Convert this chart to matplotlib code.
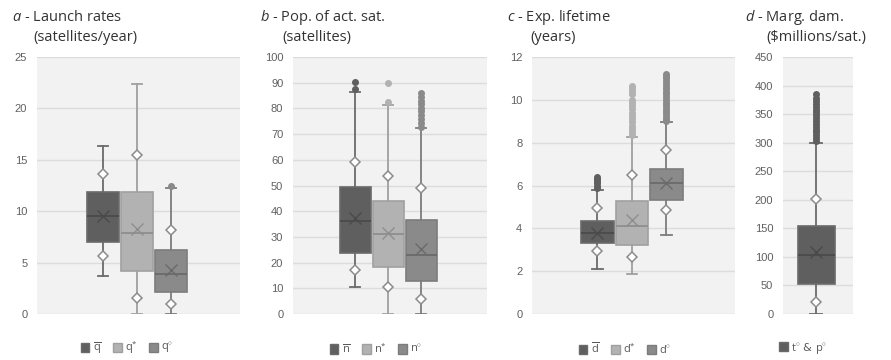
import numpy as np
import matplotlib.pyplot as plt
from matplotlib.patches import Patch

plt.rcParams['mathtext.fontset'] = 'custom'
plt.rcParams['mathtext.rm'] = 'Open Sans'
plt.rcParams['mathtext.it'] = 'Open Sans:italic'

# series colours (dark, light, mid)
fills = ['#5f5f5f', '#b2b2b2', '#8a8a8a']
edges = ['#6a6a6a', '#a0a0a0', '#7c7c7c']
inner = ['#4a4a4a', '#8e8e8e', '#6a6a6a']

# a - launch rates
a_labels = [r'$\overline{\mathrm{q}}$', r'$\mathrm{q}^{*}$', r'$\mathrm{q}^{\circ}$']
a_q1 = [7.0, 4.2, 2.1]
a_med = [9.5, 7.9, 3.9]
a_q3 = [11.9, 11.9, 6.2]
a_lo = [3.65, 0.0, 0.0]
a_hi = [16.3, 22.4, 12.3]
a_mean = [9.5, 8.25, 4.25]
a_p05 = [5.6, 1.55, 1.0]
a_p95 = [13.6, 15.5, 8.2]
a_out = [[], [], [12.5]]

# b - population of active satellites
b_labels = [r'$\overline{\mathrm{n}}$', r'$\mathrm{n}^{*}$', r'$\mathrm{n}^{\circ}$']
b_q1 = [23.9, 18.2, 12.7]
b_med = [36.2, 31.0, 22.9]
b_q3 = [49.5, 44.0, 36.6]
b_lo = [10.5, 0.0, 0.0]
b_hi = [86.5, 81.5, 72.2]
b_mean = [37.3, 31.4, 25.2]
b_p05 = [17.2, 10.5, 5.8]
b_p95 = [59.0, 53.8, 48.9]
b_out = [[87.5, 90.3], [82.3, 89.9],
         [72.8, 74.3, 75.8, 77.3, 78.8, 80.2, 81.6, 83.0, 84.5, 86.0]]

# c - expected lifetime
c_labels = [r'$\overline{\mathrm{d}}$', r'$\mathrm{d}^{*}$', r'$\mathrm{d}^{\circ}$']
c_q1 = [3.31, 3.23, 5.33]
c_med = [3.8, 4.11, 6.1]
c_q3 = [4.36, 5.26, 6.79]
c_lo = [2.1, 1.88, 3.68]
c_hi = [5.79, 8.28, 8.98]
c_mean = [3.8, 4.39, 6.13]
c_p05 = [2.92, 2.64, 4.86]
c_p95 = [4.94, 6.5, 7.67]
c_out = [[5.9, 6.0, 6.1, 6.2, 6.3, 6.38],
         [8.35, 8.5, 8.65, 8.8, 8.95, 9.1, 9.25, 9.4, 9.55, 9.7, 9.85, 10.0,
          10.25, 10.4, 10.55, 10.65],
         [9.0, 9.12, 9.25, 9.37, 9.5, 9.62, 9.75, 9.87, 10.0, 10.12, 10.25,
          10.37, 10.5, 10.62, 10.75, 10.87, 11.0, 11.1, 11.2]]

# d - marginal damages
d_labels = [r'$\mathrm{t}^{\circ}$ & $\mathrm{p}^{\circ}$']
d_q1 = [52.4]
d_med = [103.0]
d_q3 = [154.8]
d_lo = [0.0]
d_hi = [300.0]
d_mean = [108.0]
d_p05 = [20.4]
d_p95 = [200.8]
d_out = [[303, 308, 313, 318, 323, 328, 333, 338, 343, 348, 353, 358, 363,
          368, 373, 378, 385]]

panels = [
    dict(title=r'$\it{a}$ - Launch rates', sub='(satellites/year)',
         labels=a_labels, q1=a_q1, med=a_med, q3=a_q3, lo=a_lo, hi=a_hi,
         mean=a_mean, p05=a_p05, p95=a_p95, out=a_out,
         rect=[37, 203], xlim=(-2.94, 3.03), ylim=25, step=5,
         t1=12, t2=33, legx=127),
    dict(title=r'$\it{b}$ - Pop. of act. sat.', sub='(satellites)',
         labels=b_labels, q1=b_q1, med=b_med, q3=b_q3, lo=b_lo, hi=b_hi,
         mean=b_mean, p05=b_p05, p95=b_p95, out=b_out,
         rect=[293, 194], xlim=(-2.88, 3.0), ylim=100, step=10,
         t1=260, t2=282, legx=376),
    dict(title=r'$\it{c}$ - Exp. lifetime', sub='(years)',
         labels=c_labels, q1=c_q1, med=c_med, q3=c_q3, lo=c_lo, hi=c_hi,
         mean=c_mean, p05=c_p05, p95=c_p95, out=c_out,
         rect=[532, 203], xlim=(-2.9, 2.99), ylim=12, step=2,
         t1=507, t2=530, legx=625),
    dict(title=r'$\it{d}$ - Marg. dam.', sub='($millions/sat.)',
         labels=d_labels, q1=d_q1, med=d_med, q3=d_q3, lo=d_lo, hi=d_hi,
         mean=d_mean, p05=d_p05, p95=d_p95, out=d_out,
         rect=[783, 70], xlim=(-0.84, 0.94), ylim=450, step=50,
         t1=745, t2=766, legx=803),
]

W, H = 891, 360
fig = plt.figure(figsize=(W / 100, H / 100), dpi=100)

for p in panels:
    ax = fig.add_axes([p['rect'][0] / W, 1 - 314 / H, p['rect'][1] / W, 257 / H])
    ax.set_facecolor('#f2f2f2')
    n = len(p['q1'])
    pos = np.arange(n) - (n - 1) / 2
    for i in range(n):
        st = dict(q1=p['q1'][i], med=p['med'][i], q3=p['q3'][i],
                  whislo=p['lo'][i], whishi=p['hi'][i],
                  mean=p['mean'][i], fliers=p['out'][i])
        ax.bxp([st], positions=[pos[i]], widths=0.94, capwidths=0.3,
               patch_artist=True, showmeans=True, showfliers=True,
               boxprops=dict(facecolor=fills[i], edgecolor=edges[i], linewidth=1.2),
               medianprops=dict(color=inner[i], linewidth=1.3),
               whiskerprops=dict(color=edges[i], linewidth=1.3),
               capprops=dict(color=edges[i], linewidth=1.3),
               meanprops=dict(marker='x', markersize=8, markeredgecolor=inner[i],
                              markeredgewidth=1.0),
               flierprops=dict(marker='o', markersize=4, markerfacecolor=fills[i],
                               markeredgecolor=fills[i]),
               zorder=3)
        ax.plot([pos[i], pos[i]], [p['p05'][i], p['p95'][i]], ls='none',
                marker='D', markersize=5.2, markerfacecolor='white',
                markeredgecolor='#8c8c8c', markeredgewidth=1.1, zorder=5)
    ax.set_xlim(*p['xlim'])
    ax.set_ylim(0, p['ylim'])
    ax.set_yticks(np.arange(0, p['ylim'] + 0.1, p['step']))
    ax.set_xticks([])
    ax.grid(axis='y', color='#dcdcdc', linewidth=1.0, zorder=0)
    ax.set_axisbelow(True)
    for s in ax.spines.values():
        s.set_visible(False)
    ax.tick_params(axis='y', length=0, pad=7, labelsize=8, labelcolor='#606060')
    for lab in ax.get_yticklabels():
        lab.set_fontfamily('Liberation Sans')
    fig.text(p['t1'] / W, 1 - 21 / H, p['title'], fontsize=10.5,
             family='Open Sans', color='#333333', va='baseline')
    fig.text(p['t2'] / W, 1 - 41 / H, p['sub'], fontsize=10.5,
             family='Open Sans', color='#333333', va='baseline')
    handles = [Patch(facecolor=fills[i], edgecolor=edges[i], label=p['labels'][i])
               for i in range(n)]
    ax.legend(handles=handles, loc='center', ncol=n, frameon=False,
              bbox_to_anchor=(p['legx'] / W, 1 - 348 / H),
              bbox_transform=fig.transFigure, fontsize=8, labelcolor='#595959',
              handlelength=0.8, handleheight=0.9, handletextpad=0.3,
              columnspacing=1.0, borderaxespad=0)

fig.savefig('out.png', dpi=100, facecolor='white')
